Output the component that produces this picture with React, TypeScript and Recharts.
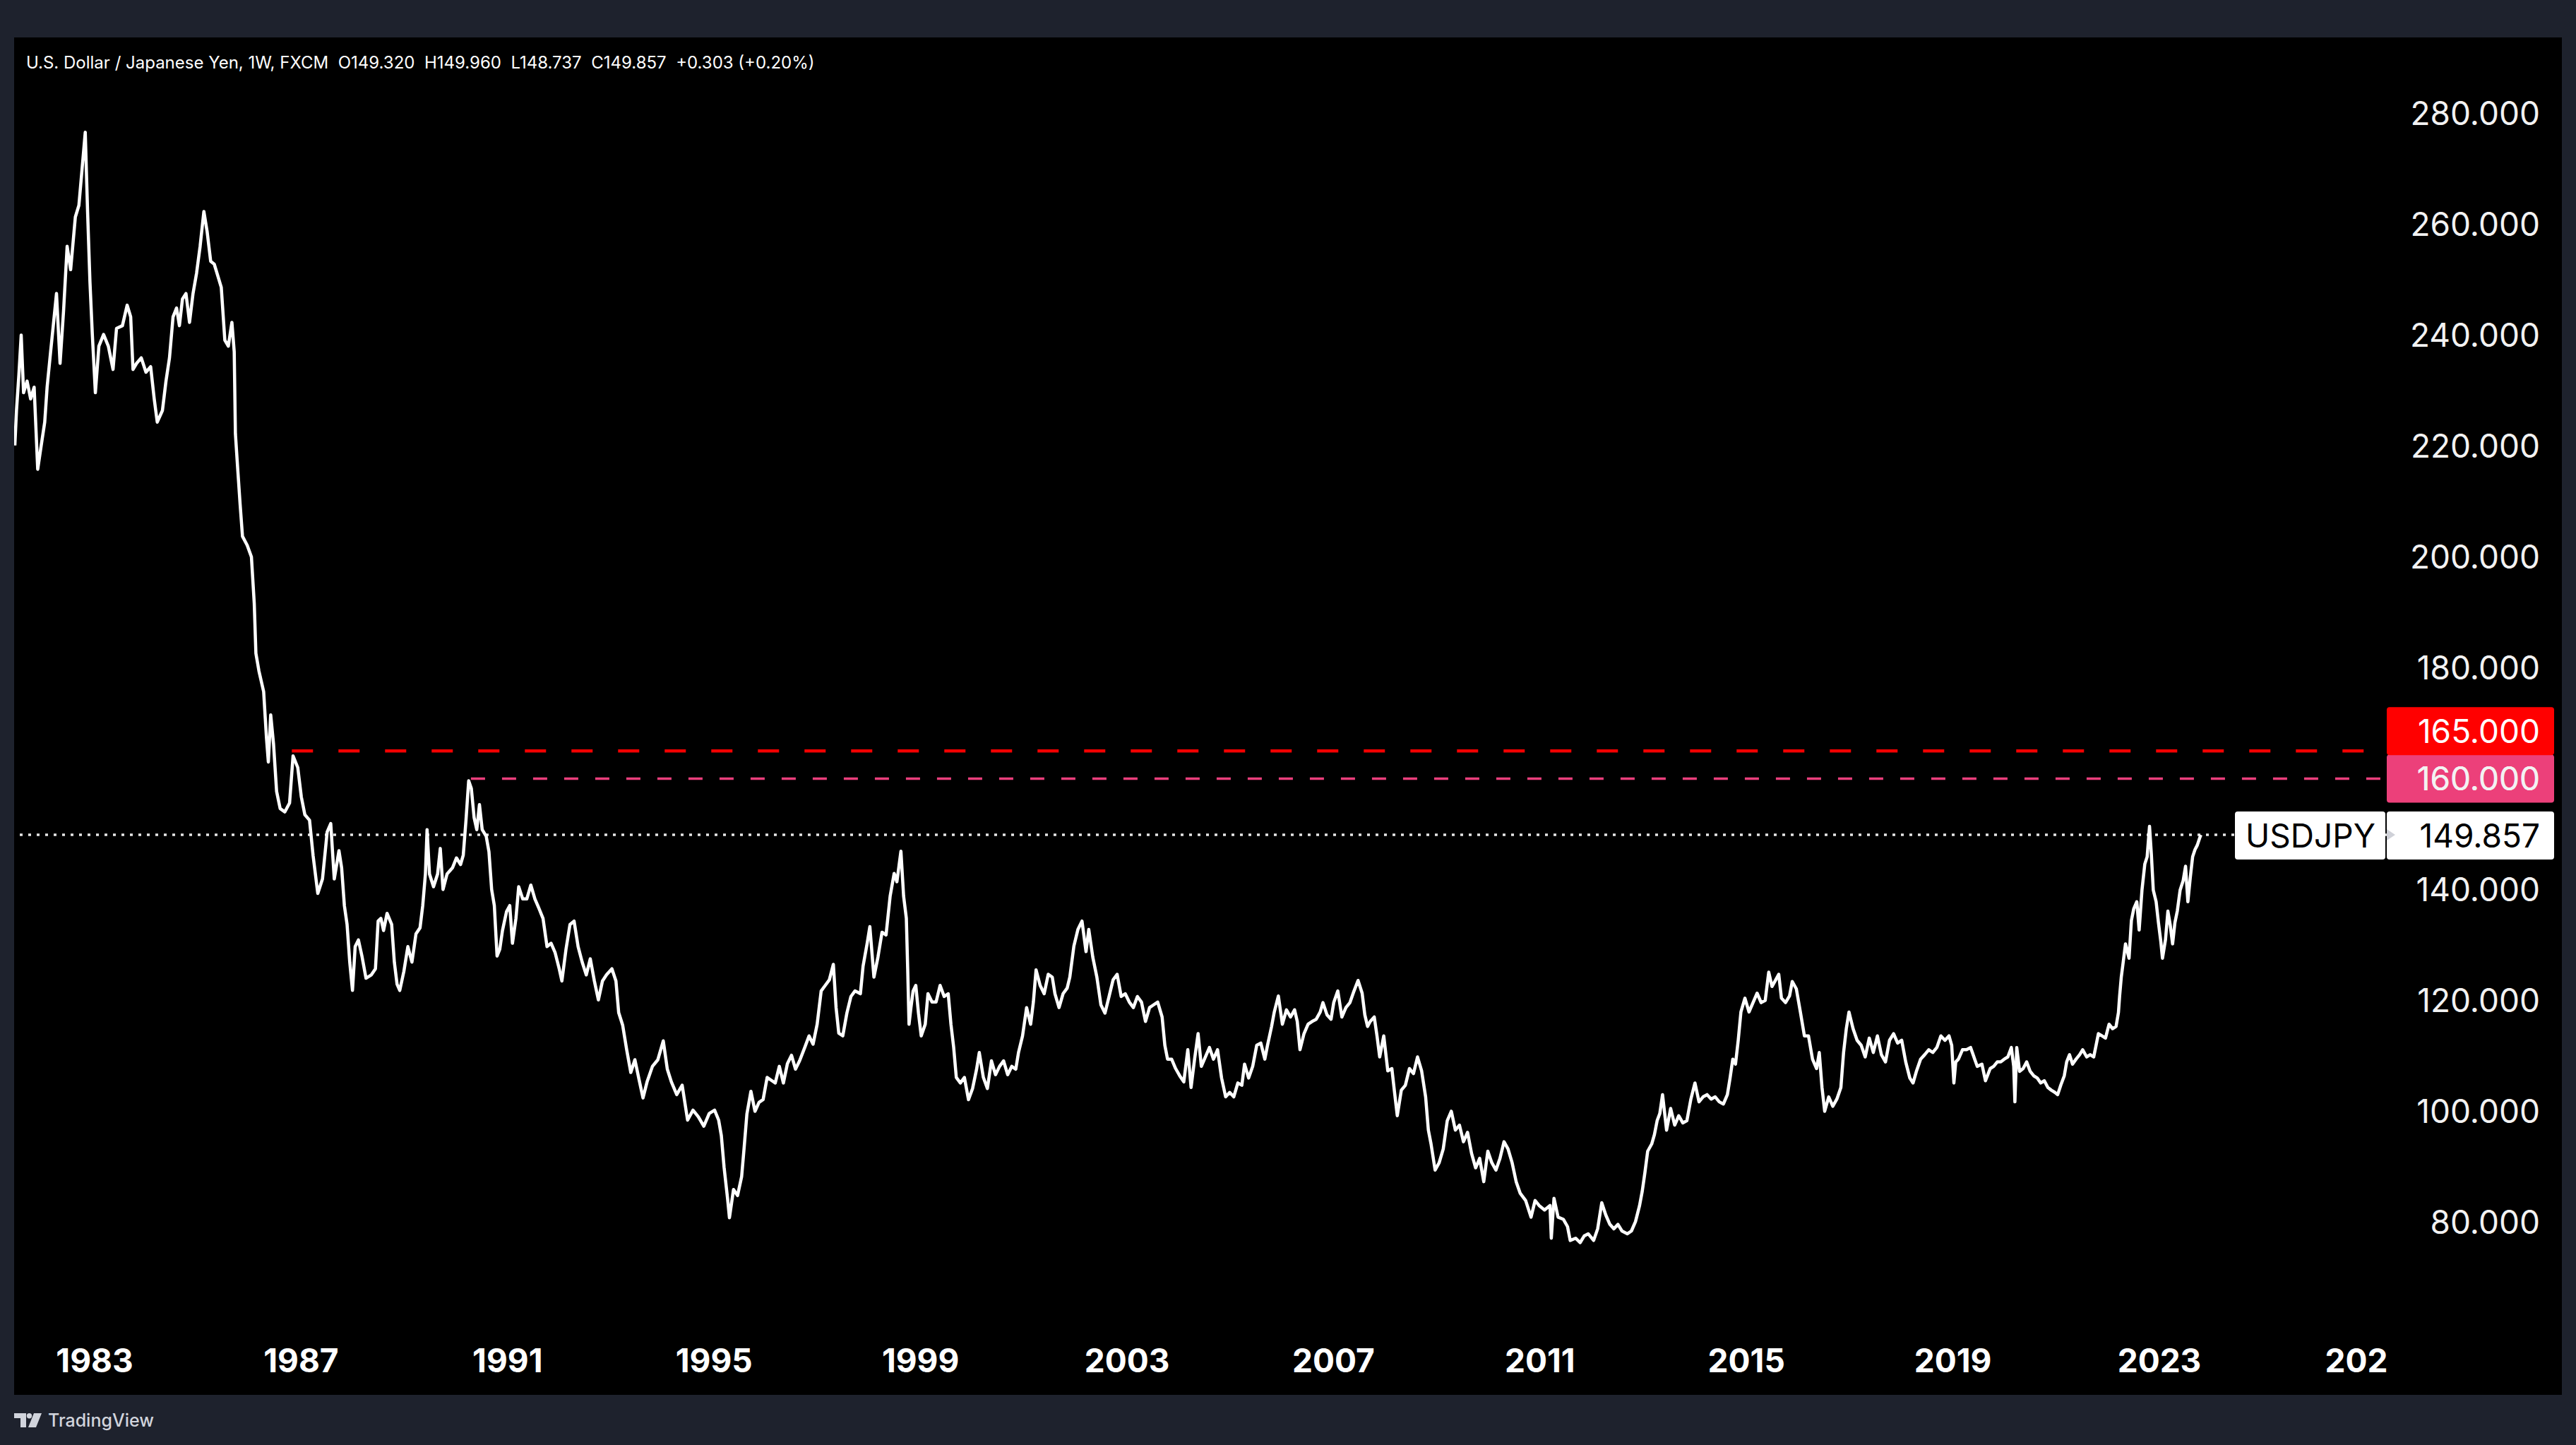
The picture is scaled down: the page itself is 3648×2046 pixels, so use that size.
import React from "react";
import { LineChart, Line, XAxis, YAxis, ReferenceLine } from "recharts";

// ---------- data (fractional year, weekly-close estimate) ----------
const era1981: [number, number][] = [
  [1981.454, 220.1], [1981.486, 226.4], [1981.532, 232.8], [1981.577, 240.0], [1981.623, 229.6],
  [1981.691, 231.7], [1981.76, 228.5], [1981.828, 230.6], [1981.897, 215.8], [1981.965, 220.1],
  [1982.033, 224.3], [1982.079, 230.6], [1982.147, 237.0], [1982.193, 241.2], [1982.261, 247.5],
  [1982.33, 234.9], [1982.398, 244.4], [1982.467, 256.0], [1982.535, 251.8], [1982.626, 261.3],
  [1982.695, 263.4], [1982.754, 269.7], [1982.818, 276.6], [1982.863, 262.3], [1982.909, 249.6],
  [1982.955, 240.1], [1983.014, 229.6], [1983.082, 238.0], [1983.173, 240.1], [1983.265, 238.0],
  [1983.356, 233.8], [1983.424, 241.2], [1983.538, 241.7], [1983.63, 245.4], [1983.698, 243.3],
  [1983.743, 233.8], [1983.812, 234.9], [1983.903, 235.9], [1983.994, 233.3], [1984.085, 234.3],
  [1984.154, 228.5], [1984.213, 224.3], [1984.313, 226.4], [1984.382, 231.7], [1984.45, 235.9],
  [1984.519, 243.3], [1984.587, 244.9], [1984.642, 241.7], [1984.701, 246.5], [1984.769, 247.5],
  [1984.838, 242.3], [1984.906, 247.5], [1984.975, 251.2], [1985.043, 256.0], [1985.116, 262.3],
  [1985.18, 258.6], [1985.248, 253.3], [1985.317, 252.8], [1985.385, 250.7], [1985.453, 248.6],
  [1985.522, 239.1], [1985.59, 238.0], [1985.659, 242.3], [1985.704, 237.0], [1985.727, 222.2],
  [1985.772, 215.8], [1985.818, 209.5], [1985.864, 203.7], [1985.955, 202.1], [1986.037, 200.0],
  [1986.092, 191.6], [1986.124, 182.6], [1986.183, 179.4], [1986.274, 175.7], [1986.329, 167.3],
  [1986.365, 163.0], [1986.411, 171.5], [1986.466, 166.2], [1986.525, 157.7], [1986.594, 154.6],
  [1986.685, 154.0], [1986.776, 155.6], [1986.844, 164.1], [1986.935, 162.0], [1987.004, 156.7],
  [1987.072, 153.5], [1987.163, 152.5], [1987.232, 146.1], [1987.323, 139.3], [1987.414, 141.9],
  [1987.505, 150.4], [1987.574, 151.9], [1987.642, 141.9], [1987.733, 147.0],
];

const era1988: [number, number][] = [
  [1987.785, 143.9], [1987.838, 137.1], [1987.89, 133.7], [1987.942, 126.9], [1987.995, 121.8],
  [1988.047, 129.7], [1988.11, 130.9], [1988.178, 128.0], [1988.257, 124.0], [1988.361, 124.6],
  [1988.44, 125.7], [1988.492, 134.3], [1988.545, 134.8], [1988.597, 132.6], [1988.665, 135.7],
  [1988.754, 133.7], [1988.806, 126.9], [1988.859, 122.9], [1988.911, 121.8], [1988.99, 125.2],
  [1989.068, 129.7], [1989.147, 126.9], [1989.225, 132.0], [1989.304, 133.1], [1989.356, 137.1],
  [1989.408, 142.8], [1989.44, 150.8], [1989.487, 142.8], [1989.565, 140.5], [1989.644, 142.8],
  [1989.696, 147.4], [1989.749, 140.0], [1989.827, 142.8], [1989.932, 143.9], [1990.01, 145.7],
  [1990.089, 144.5], [1990.141, 146.2], [1990.194, 152.5], [1990.246, 159.6], [1990.298, 158.2],
  [1990.351, 153.0], [1990.403, 150.8], [1990.455, 155.3], [1990.508, 150.8], [1990.586, 149.6],
  [1990.639, 146.8], [1990.691, 140.0], [1990.743, 137.1], [1990.796, 128.0], [1990.848, 129.2],
  [1990.901, 132.6], [1990.979, 136.0], [1991.042, 137.1], [1991.094, 130.3], [1991.162, 134.8],
  [1991.215, 140.5], [1991.293, 138.3], [1991.372, 138.3], [1991.45, 140.8], [1991.529, 138.3],
  [1991.607, 136.6], [1991.686, 134.8], [1991.764, 129.7], [1991.843, 130.3], [1991.921, 128.6],
  [1992.0, 125.7], [1992.052, 123.5], [1992.131, 129.2], [1992.209, 133.7], [1992.288, 134.3],
  [1992.366, 129.7], [1992.445, 126.9], [1992.524, 124.6], [1992.602, 127.5], [1992.681, 123.5],
  [1992.759, 120.1], [1992.838, 123.5], [1992.916, 124.6], [1993.021, 125.7], [1993.099, 123.5],
  [1993.152, 117.8], [1993.23, 115.5], [1993.309, 111.0], [1993.387, 107.0], [1993.466, 109.3],
  [1993.545, 105.8], [1993.623, 102.4], [1993.702, 105.3], [1993.806, 108.1], [1993.911, 109.3],
  [1994.016, 112.7], [1994.094, 107.6], [1994.173, 105.3], [1994.277, 103.0], [1994.382, 104.7],
  [1994.487, 98.4], [1994.592, 100.2], [1994.696, 99.0], [1994.801, 97.3], [1994.906, 99.6],
  [1995.01, 100.2], [1995.089, 98.4], [1995.141, 95.6], [1995.194, 89.9], [1995.262, 84.2],
  [1995.298, 80.8], [1995.377, 85.9], [1995.455, 84.8], [1995.534, 88.2],
];

const era1995: [number, number][] = [
  [1995.583, 93.5], [1995.636, 99.5], [1995.714, 103.6], [1995.793, 100.0], [1995.871, 101.6],
  [1995.95, 102.1], [1996.028, 106.1], [1996.107, 105.6], [1996.185, 105.1], [1996.264, 108.1],
  [1996.343, 105.1], [1996.421, 108.6], [1996.5, 110.1], [1996.578, 107.6], [1996.657, 109.1],
  [1996.761, 111.6], [1996.84, 113.6], [1996.918, 112.1], [1996.997, 115.7], [1997.075, 121.7],
  [1997.154, 122.7], [1997.233, 123.7], [1997.311, 126.5], [1997.364, 118.7], [1997.416, 114.1],
  [1997.494, 113.6], [1997.573, 117.7], [1997.651, 120.7], [1997.73, 121.7], [1997.835, 121.2],
  [1997.887, 126.2], [1997.966, 130.3], [1998.018, 133.3], [1998.097, 124.2], [1998.175, 127.8],
  [1998.254, 132.3], [1998.332, 131.8], [1998.411, 138.8], [1998.489, 142.9], [1998.542, 141.4],
  [1998.62, 146.9], [1998.672, 138.8], [1998.725, 134.8], [1998.751, 125.7], [1998.777, 115.7],
  [1998.814, 118.7], [1998.856, 121.7], [1998.908, 122.7], [1998.96, 117.7], [1999.013, 113.6],
  [1999.091, 115.7], [1999.144, 121.2], [1999.222, 119.7], [1999.301, 119.7], [1999.379, 122.7],
  [1999.458, 120.7], [1999.536, 121.2], [1999.589, 115.7], [1999.641, 111.6], [1999.693, 106.1],
  [1999.772, 105.1], [1999.85, 106.1], [1999.929, 102.1], [2000.008, 104.1], [2000.086, 107.6],
  [2000.138, 110.6], [2000.217, 106.1], [2000.295, 104.1], [2000.374, 109.1], [2000.452, 106.6],
  [2000.531, 108.1], [2000.609, 109.1], [2000.688, 106.6], [2000.767, 108.1], [2000.845, 107.6],
  [2000.898, 110.6], [2000.976, 113.6], [2001.055, 118.7], [2001.133, 115.7], [2001.186, 119.7],
  [2001.238, 125.5], [2001.317, 122.7], [2001.395, 121.2], [2001.474, 124.7], [2001.552, 124.2],
  [2001.604, 121.2], [2001.683, 118.7], [2001.761, 121.2], [2001.84, 122.2], [2001.892, 124.2],
  [2001.971, 129.8], [2002.049, 132.8], [2002.128, 134.3], [2002.206, 128.8], [2002.259, 132.8],
  [2002.337, 127.8], [2002.416, 124.2], [2002.494, 119.2], [2002.573, 117.7], [2002.652, 120.7],
  [2002.73, 123.7], [2002.809, 124.7], [2002.887, 120.7], [2002.966, 121.2], [2003.044, 119.7],
  [2003.123, 118.7], [2003.201, 120.7], [2003.28, 119.7], [2003.358, 116.2], [2003.437, 118.7],
  [2003.515, 119.2], [2003.594, 119.7],
];

const era2003: [number, number][] = [
  [2003.68, 117.0], [2003.733, 111.9], [2003.785, 109.4], [2003.864, 109.4], [2003.942, 107.7],
  [2004.021, 106.4], [2004.1, 105.3], [2004.178, 111.1], [2004.241, 104.3], [2004.309, 109.4],
  [2004.377, 114.0], [2004.44, 108.1], [2004.518, 109.8], [2004.597, 111.5], [2004.675, 109.4],
  [2004.754, 111.1], [2004.832, 106.0], [2004.911, 102.6], [2004.989, 103.4], [2005.068, 102.6],
  [2005.147, 105.1], [2005.225, 104.7], [2005.277, 108.5], [2005.356, 106.0], [2005.435, 108.1],
  [2005.513, 111.9], [2005.592, 112.3], [2005.67, 109.4], [2005.722, 111.9], [2005.801, 115.3],
  [2005.853, 117.9], [2005.932, 120.8], [2006.01, 115.7], [2006.089, 118.3], [2006.168, 117.0],
  [2006.246, 118.3], [2006.298, 116.2], [2006.351, 111.1], [2006.429, 114.0], [2006.508, 115.7],
  [2006.586, 116.2], [2006.665, 116.6], [2006.743, 117.9], [2006.796, 119.6], [2006.874, 117.4],
  [2006.953, 116.6], [2007.005, 119.6], [2007.084, 121.7], [2007.162, 117.0], [2007.241, 118.7],
  [2007.319, 119.6], [2007.398, 121.7], [2007.476, 123.6], [2007.555, 121.3], [2007.607, 117.4],
  [2007.66, 115.3], [2007.712, 116.2], [2007.79, 117.0], [2007.843, 113.6], [2007.895, 109.8],
  [2007.974, 113.6], [2008.052, 107.3], [2008.131, 107.7], [2008.183, 103.4], [2008.236, 99.2],
  [2008.314, 103.8], [2008.393, 104.7], [2008.471, 107.7], [2008.55, 106.8], [2008.628, 109.8],
  [2008.707, 107.3], [2008.785, 102.6], [2008.838, 96.6], [2008.89, 94.1], [2008.969, 89.4],
  [2009.047, 90.7], [2009.126, 93.2], [2009.204, 98.3], [2009.283, 100.0], [2009.361, 96.6],
  [2009.44, 97.5], [2009.518, 94.5], [2009.597, 96.2], [2009.675, 92.4], [2009.754, 89.8],
  [2009.832, 91.5], [2009.911, 87.3], [2009.99, 92.8], [2010.068, 90.7], [2010.147, 89.4],
  [2010.225, 91.5], [2010.304, 94.5], [2010.382, 93.2], [2010.461, 90.7], [2010.539, 87.3],
  [2010.618, 85.2], [2010.723, 83.9], [2010.827, 80.9], [2010.906, 83.9], [2010.984, 83.0],
  [2011.089, 82.2], [2011.194, 83.0], [2011.22, 77.1], [2011.272, 84.3], [2011.351, 80.9],
  [2011.455, 80.5], [2011.534, 79.2], [2011.586, 76.7], [2011.691, 77.1],
];

const era2011: [number, number][] = [
  [2011.778, 76.3], [2011.856, 77.5], [2011.935, 77.9], [2012.04, 76.7], [2012.118, 78.8],
  [2012.197, 83.5], [2012.275, 81.3], [2012.354, 79.6], [2012.432, 78.8], [2012.511, 79.6],
  [2012.589, 78.4], [2012.694, 77.9], [2012.772, 78.4], [2012.851, 80.1], [2012.93, 83.0],
  [2012.982, 85.6], [2013.034, 89.0], [2013.087, 92.8], [2013.165, 94.1], [2013.218, 95.8],
  [2013.27, 98.3], [2013.322, 99.6], [2013.375, 103.0], [2013.453, 96.6], [2013.532, 100.5],
  [2013.61, 97.5], [2013.689, 99.2], [2013.767, 97.9], [2013.846, 98.3], [2013.924, 102.2],
  [2014.003, 105.1], [2014.081, 101.7], [2014.16, 102.6], [2014.238, 103.0], [2014.317, 102.2],
  [2014.395, 102.6], [2014.474, 101.7], [2014.553, 101.3], [2014.631, 103.0], [2014.683, 106.0],
  [2014.736, 109.4], [2014.788, 108.5], [2014.841, 112.8], [2014.893, 117.9], [2014.971, 120.4],
  [2015.05, 117.9], [2015.128, 119.6], [2015.207, 121.3], [2015.285, 119.6], [2015.364, 120.0],
  [2015.432, 125.1], [2015.495, 122.5], [2015.573, 123.8], [2015.626, 124.7], [2015.678, 120.4],
  [2015.757, 119.6], [2015.835, 120.8], [2015.888, 123.4], [2015.966, 122.1], [2016.045, 117.9],
  [2016.123, 113.6], [2016.202, 113.6], [2016.28, 109.4], [2016.359, 107.7], [2016.411, 110.6],
  [2016.464, 104.3], [2016.516, 100.0], [2016.594, 102.6], [2016.673, 100.9], [2016.752, 102.2],
  [2016.83, 104.3], [2016.882, 110.6], [2016.935, 114.9], [2016.987, 117.9], [2017.066, 114.9],
  [2017.144, 112.8], [2017.223, 111.9], [2017.301, 109.8], [2017.38, 113.2], [2017.458, 110.6],
  [2017.537, 113.6], [2017.615, 110.2], [2017.694, 108.9], [2017.772, 112.8], [2017.851, 114.0],
  [2017.929, 112.3], [2018.008, 112.8], [2018.086, 108.9], [2018.165, 106.0], [2018.228, 105.1],
  [2018.296, 107.3], [2018.374, 109.4], [2018.453, 110.2], [2018.532, 111.1], [2018.61, 110.6],
  [2018.689, 111.5], [2018.767, 113.6], [2018.846, 112.8], [2018.924, 113.6], [2018.977, 111.9],
  [2019.019, 105.1], [2019.055, 108.9], [2019.107, 109.4], [2019.186, 111.1], [2019.264, 111.1],
  [2019.343, 111.5],
];

const era2019: [number, number][] = [
  [2019.471, 108.1], [2019.562, 108.5], [2019.631, 105.5], [2019.722, 107.7], [2019.79, 108.1],
  [2019.859, 108.9], [2019.927, 108.9], [2019.995, 109.4], [2020.064, 109.8], [2020.132, 111.5],
  [2020.178, 108.1], [2020.201, 101.7], [2020.237, 111.5], [2020.292, 107.2], [2020.36, 107.7],
  [2020.429, 108.9], [2020.497, 107.2], [2020.565, 106.4], [2020.634, 106.0], [2020.702, 105.1],
  [2020.771, 105.5], [2020.839, 104.3], [2020.907, 103.8], [2020.976, 103.4], [2021.03, 103.0],
  [2021.09, 104.7], [2021.158, 106.4], [2021.204, 108.9], [2021.259, 110.2], [2021.318, 108.5],
  [2021.386, 109.4], [2021.455, 110.2], [2021.514, 111.1], [2021.591, 109.8], [2021.66, 110.2],
  [2021.728, 109.8], [2021.774, 111.9], [2021.819, 114.0], [2021.888, 113.6], [2021.956, 113.2],
  [2022.025, 115.7], [2022.093, 114.9], [2022.161, 115.3], [2022.207, 117.8], [2022.23, 120.8],
  [2022.262, 124.2], [2022.298, 126.8], [2022.344, 130.2], [2022.412, 127.6], [2022.458, 134.4],
  [2022.503, 136.5], [2022.563, 137.8], [2022.608, 132.7], [2022.663, 139.9], [2022.718, 144.6],
  [2022.763, 145.9], [2022.809, 151.4], [2022.845, 146.3], [2022.882, 139.9], [2022.937, 137.8],
  [2022.982, 134.0], [2023.028, 130.6], [2023.06, 127.6], [2023.119, 131.0], [2023.165, 136.1],
  [2023.21, 133.6], [2023.256, 130.2], [2023.301, 134.0], [2023.347, 136.1], [2023.402, 139.9],
  [2023.461, 141.6], [2023.507, 144.2], [2023.552, 137.8], [2023.598, 142.1], [2023.644, 145.9],
  [2023.69, 147.2], [2023.735, 148.0], [2023.781, 149.3], [2023.804, 149.857],
];

const yearTicks = [1983, 1987, 1991, 1995, 1999, 2003, 2007, 2011, 2015, 2019, 2023, 2027];
const priceTicks = [80, 100, 120, 140, 160, 180, 200, 220, 240, 260, 280];
const timeDomain: [number, number] = [1981.44, 2027.405];
const priceDomain: [number, number] = [60.95, 293.69];

const lastPrice = 149.857;
const level165 = 165;
const level165Start = 1986.82;
const level160 = 160;
const level160Start = 1990.29;
const symbol = "USDJPY";
const header =
  "U.S. Dollar / Japanese Yen, 1W, FXCM  O149.320  H149.960  L148.737  C149.857  +0.303 (+0.20%)";

const series = [...era1981, ...era1988, ...era1995, ...era2003, ...era2011, ...era2019].map(
  ([t, v]) => ({ t, v })
);

// ---------- layout ----------
const PAGE_W = 3648;
const PAGE_H = 2046;
const PANEL_X = 20;
const PANEL_Y = 53;
const CHART_W = 3608;
const CHART_H = 1922;
const YAXIS_W = 248;
const XAXIS_H = 95;
const PLOT_W = CHART_W - YAXIS_W;
const PLOT_H = CHART_H - XAXIS_H;
const LABEL_RIGHT = PLOT_W + 217;
const TAG_H = 68;
const TAG_W = 237;
const FONT = "Inter, 'Noto Sans', sans-serif";

const fmt = (v: number) => v.toFixed(3);

const YTick = (props: any) => {
  const { y, payload } = props;
  return (
    <text
      x={LABEL_RIGHT}
      y={y}
      textAnchor="end"
      dominantBaseline="central"
      fill="#f2f2f2"
      fontFamily={FONT}
      fontSize={46}
    >
      {fmt(payload.value)}
    </text>
  );
};

const XTick = (props: any) => {
  const { x, payload, index } = props;
  const id = `xclip-${index}`;
  return (
    <g>
      <defs>
        <clipPath id={id}>
          <rect x={0} y={PLOT_H} width={PLOT_W} height={XAXIS_H} />
        </clipPath>
      </defs>
      <text
        x={x}
        y={PLOT_H + 46}
        textAnchor="middle"
        dominantBaseline="central"
        fill="#ffffff"
        fontFamily={FONT}
        fontWeight={700}
        fontSize={46}
        clipPath={`url(#${id})`}
      >
        {payload.value}
      </text>
    </g>
  );
};

const PriceTag = (props: any) => {
  const { viewBox, price, color, shift } = props;
  const y = viewBox.y;
  const top = y + shift;
  return (
    <g>
      <rect x={PLOT_W} y={top} width={TAG_W} height={TAG_H} rx={4} fill={color} />
      <text
        x={LABEL_RIGHT}
        y={top + TAG_H / 2}
        textAnchor="end"
        dominantBaseline="central"
        fill="#ffffff"
        fontFamily={FONT}
        fontSize={46}
      >
        {fmt(price)}
      </text>
    </g>
  );
};

const LastTag = (props: any) => {
  const { viewBox } = props;
  const y = viewBox.y;
  const top = y - 33;
  return (
    <g>
      <rect x={PLOT_W - 215} y={top} width={213} height={TAG_H} rx={4} fill="#ffffff" />
      <text
        x={PLOT_W - 108}
        y={top + TAG_H / 2}
        textAnchor="middle"
        dominantBaseline="central"
        fill="#000000"
        fontFamily={FONT}
        fontSize={46}
      >
        {symbol}
      </text>
      <rect x={PLOT_W} y={top} width={TAG_W} height={TAG_H} rx={4} fill="#ffffff" />
      <path
        d={`M ${PLOT_W} ${y - 8} L ${PLOT_W + 12} ${y} L ${PLOT_W} ${y + 8} Z`}
        fill="#cfd1d8"
      />
      <text
        x={LABEL_RIGHT}
        y={top + TAG_H / 2}
        textAnchor="end"
        dominantBaseline="central"
        fill="#000000"
        fontFamily={FONT}
        fontSize={46}
      >
        {fmt(lastPrice)}
      </text>
    </g>
  );
};

const Logo = () => (
  <div
    style={{
      position: "absolute",
      left: 20,
      top: 1996,
      display: "flex",
      alignItems: "center",
      gap: 8,
      color: "#d1d4dc",
      fontFamily: FONT,
      fontSize: 25,
      fontWeight: 500,
      lineHeight: "30px",
    }}
  >
    <svg width={40} height={21} viewBox="0 0 40 21">
      <path d="M0 0 H17 V20 H9 V7 H0 Z" fill="#d1d4dc" />
      <circle cx={21.5} cy={3.7} r={3.7} fill="#d1d4dc" />
      <path d="M28 0 H39 L31 20 H20 Z" fill="#d1d4dc" />
    </svg>
    <span>TradingView</span>
  </div>
);

export default function App() {
  return (
    <div
      style={{
        position: "absolute",
        left: 0,
        top: 0,
        width: PAGE_W,
        height: PAGE_H,
        background: "#1e222d",
        overflow: "hidden",
      }}
    >
      <div
        style={{
          position: "absolute",
          left: PANEL_X,
          top: PANEL_Y,
          width: CHART_W,
          height: CHART_H,
          background: "#000000",
        }}
      >
        <LineChart
          width={CHART_W}
          height={CHART_H}
          data={series}
          margin={{ top: 0, right: 0, bottom: 0, left: 0 }}
        >
          <XAxis
            dataKey="t"
            type="number"
            domain={timeDomain}
            allowDataOverflow
            ticks={yearTicks}
            interval={0}
            height={XAXIS_H}
            axisLine={false}
            tickLine={false}
            tick={<XTick />}
          />
          <YAxis
            type="number"
            orientation="right"
            domain={priceDomain}
            allowDataOverflow
            ticks={priceTicks}
            interval={0}
            width={YAXIS_W}
            axisLine={false}
            tickLine={false}
            tick={<YTick />}
          />
          <ReferenceLine
            y={lastPrice}
            stroke="#e6e6e6"
            strokeWidth={3.5}
            strokeDasharray="4 8"
            label={<LastTag />}
          />
          <ReferenceLine
            segment={[
              { x: level160Start, y: level160 },
              { x: timeDomain[1], y: level160 },
            ]}
            stroke="#ea3f7c"
            strokeWidth={3.5}
            strokeDasharray="20 24"
          />
          <ReferenceLine
            segment={[
              { x: level165Start, y: level165 },
              { x: timeDomain[1], y: level165 },
            ]}
            stroke="#f20000"
            strokeWidth={4.5}
            strokeDasharray="30 36"
          />
          <Line
            type="linear"
            dataKey="v"
            stroke="#ffffff"
            strokeWidth={4.5}
            strokeLinejoin="round"
            dot={false}
            activeDot={false}
            isAnimationActive={false}
          />
          <ReferenceLine
            y={level160}
            stroke="none"
            strokeWidth={0}
            label={<PriceTag price={level160} color="#ec407a" shift={-34} />}
          />
          <ReferenceLine
            y={level165}
            stroke="none"
            strokeWidth={0}
            label={<PriceTag price={level165} color="#ff0000" shift={-62} />}
          />
        </LineChart>
        <div
          style={{
            position: "absolute",
            left: 17,
            top: 24,
            color: "#ffffff",
            fontFamily: FONT,
            fontSize: 24,
            lineHeight: "24px",
            whiteSpace: "pre",
          }}
        >
          {header}
        </div>
      </div>
      <Logo />
    </div>
  );
}
